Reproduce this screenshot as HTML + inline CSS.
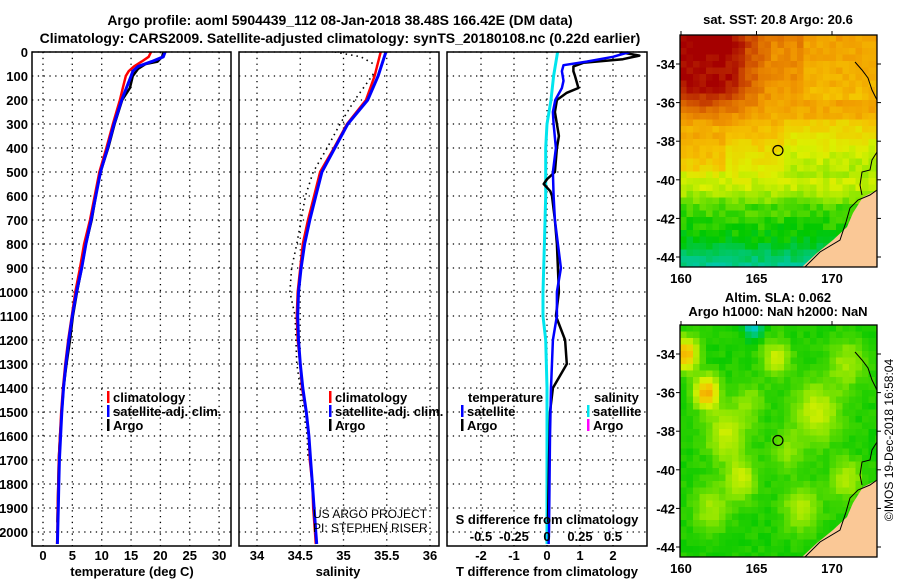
<!DOCTYPE html>
<html><head><meta charset="utf-8"><style>
html,body{margin:0;padding:0;background:#fff;}
svg text{font-family:"Liberation Sans",Arial,sans-serif;}
.b{font-weight:bold;font-size:13px;}
</style></head><body>
<svg id="fig" width="900" height="580" viewBox="0 0 900 580" xmlns="http://www.w3.org/2000/svg">
<text class="b" x="340" y="25" text-anchor="middle" style="font-size:14px">Argo profile: aoml 5904439_112 08-Jan-2018 38.48S 166.42E (DM data)</text>
<text class="b" x="340" y="43" text-anchor="middle" style="font-size:14px">Climatology: CARS2009. Satellite-adjusted climatology: synTS_20180108.nc (0.22d earlier)</text>
<g id="panels"></g>
<g id="maps"></g>
<text class="b" x="778" y="24" text-anchor="middle">sat. SST: 20.8 Argo: 20.6</text>
<text class="b" x="778" y="302" text-anchor="middle">Altim. SLA: 0.062</text>
<text class="b" x="778" y="316" text-anchor="middle">Argo h1000: NaN h2000: NaN</text>
<text x="893" y="440" font-size="12" text-anchor="middle" transform="rotate(-90 893 440)">©IMOS 19-Dec-2018 16:58:04</text>
</svg>
<script>
// ---------- data ----------
const climDepth=[0,20,40,60,80,100,150,200,300,400,500,600,700,800,900,1000,1100,1200,1300,1400,1500,1600,1700,1800,1900,2000,2050];
const climTemp=[18.4,18,16.8,15.5,14.6,14.1,13.6,13.1,11.9,10.8,9.6,8.8,8.0,7.0,6.3,5.5,4.9,4.3,3.8,3.4,3.1,2.9,2.7,2.6,2.5,2.45,2.4];
const satTemp=[20.8,20.5,18.5,16.2,15.3,15,14.2,13.4,12.1,11,9.8,9,8.2,7.3,6.6,5.7,5.0,4.4,3.9,3.5,3.2,3.0,2.8,2.7,2.6,2.5,2.45];
const argoDepth=[0,20,40,50,70,100,150,200,300,400,500,550,600,700,800,900,1000,1100,1200,1300,1400,1500,1600,1700,1800,1900,1960];
const argoTemp=[20.5,20.3,19.5,17.5,16.2,15.3,14.8,13.5,12.2,11.1,9.8,9.3,9,8.3,7.3,6.6,5.8,5.1,4.6,4.0,3.5,3.2,2.9,2.7,2.6,2.5,2.45];
const salDepth=[0,100,200,300,400,500,600,700,800,900,1000,1100,1200,1300,1400,1500,1600,1700,1800,1900,2000,2050];
const climSal=[35.43,35.36,35.26,35.04,34.89,34.73,34.66,34.59,34.53,34.50,34.47,34.46,34.47,34.50,34.52,34.57,34.60,34.61,34.64,34.65,34.67,34.68];
const satSal=[35.49,35.40,35.28,35.05,34.90,34.75,34.68,34.61,34.55,34.51,34.48,34.47,34.48,34.50,34.53,34.57,34.60,34.62,34.64,34.66,34.68,34.69];
const argoSalDepth=[0,20,40,60,100,200,300,400,500,600,700,800,900,1000,1100,1200,1300,1400,1500,1600,1700];
const argoSal=[34.9,35.2,35.3,35.4,35.33,35.13,34.96,34.81,34.65,34.56,34.51,34.46,34.40,34.38,34.44,34.45,34.46,34.50,34.54,34.58,34.59];
const dTsatDepth=[0,20,40,55,80,120,150,200,250,300,400,500,600,700,800,900,1000,1100,1200,1400,1600,2000,2050];
const dTsat=[2.5,2.0,1.2,0.5,0.45,0.5,0.45,0.25,0.18,0.2,0.27,0.18,0.2,0.24,0.33,0.42,0.3,0.3,0.18,0.12,0.09,0.06,0.05];
const dTargoDepth=[0,15,30,45,60,80,100,150,170,200,250,300,350,400,500,530,550,580,600,700,800,900,1000,1100,1200,1300,1400,1500,1700,1960];
const dTargo=[2.2,2.8,2.3,1.1,0.8,0.8,0.85,0.95,0.6,0.3,0.24,0.3,0.36,0.3,0.24,0.0,-0.1,0.1,0.15,0.24,0.3,0.33,0.36,0.27,0.55,0.6,0.18,0.09,0.06,0.03];
const dSsatDepth=[0,100,200,300,400,600,800,1000,1100,1200,1400,2000,2050];
const dSsat=[0.08,0.05,0.03,0.0,-0.01,-0.01,-0.02,-0.03,-0.03,-0.01,0.0,0.0,0.0];
const depthTicks=[0,100,200,300,400,500,600,700,800,900,1000,1100,1200,1300,1400,1500,1600,1700,1800,1900,2000];
const tempTicks=[0,5,10,15,20,25,30];
const salTicks=[34,34.5,35,35.5,36];
const salTickLabels=["34","34.5","35","35.5","36"];
const dTTicks=[-2,-1,0,1,2];
const dSTicks=[-0.5,-0.25,0,0.25,0.5];
const dSTickLabels=["-0.5","-0.25","0","0.25","0.5"];

// ---------- axes ----------
const NS='http://www.w3.org/2000/svg';
const TOP=52,BOT=546;
const yD=d=>52+0.24*d;
const xT=t=>43+t*5.87;
const xS=s=>257+(s-34)*86.5;
const xdT=v=>547+v*33;
const xdS=v=>547+v*132;
function el(tag,attrs,parent){const e=document.createElementNS(NS,tag);for(const k in attrs)e.setAttribute(k,attrs[k]);parent.appendChild(e);return e;}
const P=document.getElementById('panels');
function txt(x,y,s,anchor,cls,parent){const t=el('text',{x:x,y:y,'text-anchor':anchor,'class':(cls===undefined?'b':cls)},parent||P);t.textContent=s;return t;}
function panel(x0,x1,name){
  const g=el('g',{},P);
  
  
  depthTicks.forEach(d=>{const l=el('line',{x1:x0,x2:x1,y1:yD(d),y2:yD(d),stroke:'#000','stroke-width':1.3,'stroke-dasharray':'1.3 4.5'},g);
    
    });
  return g;
}
function vgrid(g,xs){xs.forEach(x=>{const l=el('line',{x1:x,x2:x,y1:TOP,y2:BOT,stroke:'#000','stroke-width':1.3,'stroke-dasharray':'1.3 4.5'},g);
  
  });}
function frame(g,x0,x1){const r=el('rect',{x:x0,y:TOP,width:x1-x0,height:BOT-TOP,fill:'none',stroke:'#000','stroke-width':1.5},g);
  
  }
function line(g,xs,ds,fx,color,w,name,dash){
  const pts=xs.map((v,i)=>fx(v).toFixed(1)+','+yD(ds[i]).toFixed(1)).join(' ');
  const p=el('polyline',{points:pts,fill:'none',stroke:color,'stroke-width':w,'stroke-linejoin':'round'},g);
  if(dash)p.setAttribute('stroke-dasharray',dash);
  
  
}
function clip(id,x0,x1){const d=el('clipPath',{id:id},P);el('rect',{x:x0,y:TOP,width:x1-x0,height:BOT-TOP},d);}

clip('c1',32,231);clip('c2',239,439);clip('c3',447,647);
// Panel 1 temperature
let g1=panel(32,231,'temperature-panel');
vgrid(g1,tempTicks.map(xT));
let s1=el('g',{'clip-path':'url(#c1)'},g1);
line(s1,argoTemp,argoDepth,xT,'#000',2.5,'argo-temperature-line');
line(s1,climTemp,climDepth,xT,'#f00',2.5,'climatology-temperature-line');
line(s1,satTemp,climDepth,xT,'#00f',3,'satellite-temperature-line');
frame(g1,32,231);
depthTicks.forEach(d=>{const t=txt(28,yD(d)+5,String(d),'end');
  
  });
tempTicks.forEach(v=>{const t=txt(xT(v),560,String(v),'middle');
  
  });
let tt=txt(132,576,'temperature (deg C)','middle');



// Panel 2 salinity
let g2=panel(239,439,'salinity-panel');
vgrid(g2,salTicks.map(xS));
let s2=el('g',{'clip-path':'url(#c2)'},g2);
line(s2,argoSal,argoSalDepth,xS,'#000',1.6,'argo-salinity-line','1.5 4');
line(s2,climSal,salDepth,xS,'#f00',2.5,'climatology-salinity-line');
line(s2,satSal,salDepth,xS,'#00f',3,'satellite-salinity-line');
frame(g2,239,439);
salTicks.forEach((v,i)=>{const t=txt(xS(v),560,salTickLabels[i],'middle');
  
  });
let st=txt(338,576,'salinity','middle');


let w1=txt(313,518,'US ARGO PROJECT','start','');w1.setAttribute('font-size','12');


let w2=txt(313,532,'PI: STEPHEN RISER','start','');w2.setAttribute('font-size','12');



// Panel 3 differences
let g3=panel(447,647,'difference-panel');
vgrid(g3,dTTicks.map(xdT));
let s3=el('g',{'clip-path':'url(#c3)'},g3);
line(s3,dSsat,dSsatDepth,xdS,'#00e5ee',3,'salinity-satellite-diff-line');
line(s3,dTargo,dTargoDepth,xdT,'#000',2.5,'temperature-argo-diff-line');
line(s3,dTsat,dTsatDepth,xdT,'#00f',2.5,'temperature-satellite-diff-line');
frame(g3,447,647);
dTTicks.forEach(v=>{const t=txt(xdT(v),560,String(v),'middle');
  
  });
dSTicks.forEach((v,i)=>{const t=txt(xdS(v),541,dSTickLabels[i],'middle');
  
  });
let dtt=txt(547,576,'T difference from climatology','middle');


let dst=txt(547,524,'S difference from climatology','middle');



// Legends
function legend(x,y,color,label,name){
  const r=el('rect',{x:x,y:y-11,width:2.5,height:12,fill:color},P);
  
  
  const t=txt(x+6,y,label,'start');
  
  
}
legend(107,402,'#f00','climatology','legend-temp-climatology');
legend(107,416,'#00f','satellite-adj. clim.','legend-temp-satellite');
legend(107,430,'#000','Argo','legend-temp-argo');
legend(329,402,'#f00','climatology','legend-sal-climatology');
legend(329,416,'#00f','satellite-adj. clim.','legend-sal-satellite');
legend(329,430,'#000','Argo','legend-sal-argo');
let lt=txt(468,402,'temperature','start');


let ls=txt(594,402,'salinity','start');


legend(461,416,'#00f','satellite','legend-dt-satellite');
legend(461,430,'#000','Argo','legend-dt-argo');
legend(587,416,'#00e5ee','satellite','legend-ds-satellite');
legend(587,430,'#f0f','Argo','legend-ds-argo');

// ---------- maps (decorative texture) ----------
const M=document.getElementById('maps');
const cstops=[[0,[0,0,170]],[0.2,[0,200,230]],[0.3,[0,200,120]],[0.4,[0,200,0]],[0.5,[140,230,0]],[0.58,[220,240,0]],[0.68,[245,195,0]],[0.78,[240,150,0]],[0.88,[215,95,0]],[1,[165,0,0]]];
function cmap(v){v=Math.max(0,Math.min(1,v));for(let i=1;i<cstops.length;i++){if(v<=cstops[i][0]){const a=cstops[i-1],b=cstops[i],f=(v-a[0])/(b[0]-a[0]);return 'rgb('+a[1].map((c,k)=>Math.round(c+(b[1][k]-c)*f)).join(',')+')';}}return 'rgb(165,0,0)';}
function hash(i,j){let h=Math.sin(i*127.1+j*311.7)*43758.5453;return h-Math.floor(h);}
const X0=680,X1=877;
function lonX(l){return 681+(l-160)*15.1;}
function sst(lon,lat,i,j){
  let v;
  const L=[[-32.5,0.82],[-35,0.78],[-37,0.72],[-38,0.66],[-39.5,0.59],[-40.5,0.55],[-41.3,0.46],[-43,0.4],[-44.5,0.28]];
  for(let k=1;k<L.length;k++){if(lat>=L[k][0]){const f=(lat-L[k-1][0])/(L[k][0]-L[k-1][0]);v=L[k-1][1]+(L[k][1]-L[k-1][1])*f;break;}}
  if(v===undefined)v=0.28;
  if(lon<166&&lat>-37.5)v+=0.2*Math.min(1,(166-lon)/3)*Math.min(1,(lat+37.5)/2);
  if(lon<163&&lat<-37.5&&lat>-39.5)v+=0.06;
  if(lon>167&&lat<-37&&lat>-40)v-=0.06;
  if(lon>168&&lat>-36)v-=0.06;
  v+=(hash(i,j)-0.5)*0.06;
  return v;
}
function sla(lon,lat,i,j){
  let v=0.42;
  const b=[[160.3,-34,0.3,0.8],[161.7,-36,0.3,0.8],[164.8,-32.6,-0.2,0.6],[166.3,-34.2,0.14,0.9],[163,-38.2,0.14,1.3],[164,-40.5,0.14,1],[169,-37,0.14,1.5],[171,-34.5,0.1,1.2],[168,-42,0.12,1.2],[171,-40.5,0.12,1],[162,-42,0.1,1.2],[167,-39,0.08,1],[164.5,-36.5,0.08,1]];
  b.forEach(q=>{const d2=((lon-q[0])**2+(lat-q[1])**2)/(q[3]*q[3]);v+=q[2]*Math.exp(-d2);});
  v+=(hash(i,j)-0.5)*0.03;
  return v;
}
function buildMap(top,fn,name,cell){
  const g=el('g',{},M);
  
  
  const cid='clip'+name;const cp=el('clipPath',{id:cid},g);el('rect',{x:X0,y:top,width:X1-X0,height:232},cp);
  const cg=el('g',{'clip-path':'url(#'+cid+')'},g);
  for(let j=0;j*cell<232;j++)for(let i=0;i*cell<X1-X0;i++){
    const x=X0+i*cell,y=top+j*cell;
    const lon=160+(x+cell/2-681)/15.1,lat=-34-(y-top+cell/2-29)/19.3;
    el('rect',{x:x,y:y,width:cell+0.5,height:cell+0.5,fill:cmap(fn(lon,lat,i,j))},cg);
  }
  const o=top-35;
  const land=el('polygon',{points:[[802,267],[817,253],[833,240],[847,227],[853,213],[863,197],[873,192],[877,190],[880,270]].map(p=>p[0]+','+(p[1]+o)).join(' '),fill:'#fac896'},cg);
  
  
  el('polyline',{points:[[805,267],[820,252],[840,240],[846,222],[850,208],[858,200],[870,195],[877,190]].map(p=>p[0]+','+(p[1]+o)).join(' '),fill:'none',stroke:'#000','stroke-width':1},cg);
  el('polyline',{points:[[855,62],[862,70],[868,78],[872,90],[877,100]].map(p=>p[0]+','+(p[1]+o)).join(' '),fill:'none',stroke:'#000','stroke-width':1},cg);
  el('polyline',{points:[[877,152],[872,160],[870,170],[862,172],[860,185],[862,195]].map(p=>p[0]+','+(p[1]+o)).join(' '),fill:'none',stroke:'#000','stroke-width':1},cg);
  const c=el('circle',{cx:lonX(166.42),cy:top+29+(38.48-34)*19.3,r:5,fill:'none',stroke:'#000','stroke-width':1.2},g);
  
  
  el('rect',{x:X0,y:top,width:X1-X0,height:232,fill:'none',stroke:'#000','stroke-width':1.3},g);
  [160,165,170].forEach(l=>{el('line',{x1:lonX(l),x2:lonX(l),y1:top,y2:top-4,stroke:'#000'},g);
    const t=txt(lonX(l),top+232+16,String(l),'middle','b',g);
    
    });
  [-34,-36,-38,-40,-42,-44].forEach(la=>{const y=top+29+(-34-la)*19.3;
    el('line',{x1:X0,x2:X0-4,y1:y,y2:y,stroke:'#000'},g);el('line',{x1:X1,x2:X1+4,y1:y,y2:y,stroke:'#000'},g);
    const t=txt(675,y+5,String(la),'end','b',g);
    
    });
}
buildMap(35,sst,'sst-map',6.5);
buildMap(325,sla,'sla-map',6.5);
</script>
</body></html>
